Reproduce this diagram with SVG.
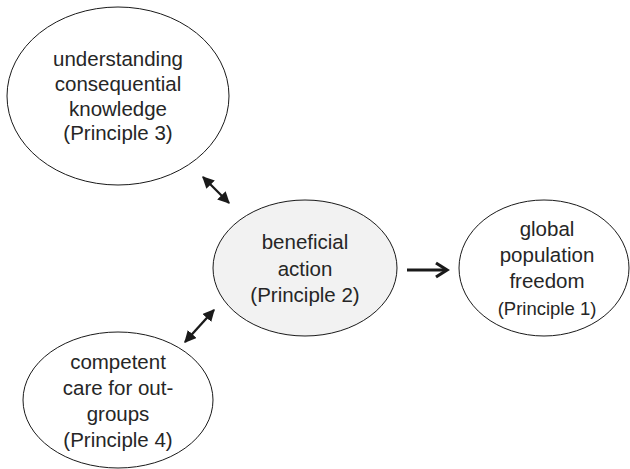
<svg xmlns="http://www.w3.org/2000/svg" width="630" height="469" viewBox="0 0 630 469">
<style>
.node ellipse{fill:#ffffff;stroke:#1a1a1a;stroke-width:1}
#n2 ellipse{fill:#f2f2f2}
text{font-family:"Liberation Sans",Arial,sans-serif;font-size:20.5px;fill:#262626;text-anchor:middle}
.small{font-size:18.5px}
.conn{stroke:#1a1a1a;fill:none}
</style>
<defs>
<marker id="tri" viewBox="0 0 10 10" refX="9" refY="5" markerWidth="5.2" markerHeight="5.2" orient="auto-start-reverse" markerUnits="strokeWidth">
<path d="M0,0 L10,5 L0,10 Z" fill="#1a1a1a"/>
</marker>
</defs>
<g id="n1" class="node">
<ellipse cx="118" cy="96" rx="111" ry="89"/>
<text x="118" y="66">understanding</text>
<text x="118" y="91">consequential</text>
<text x="118" y="116">knowledge</text>
<text x="118" y="140">(Principle 3)</text>
</g>
<g id="n2" class="node">
<ellipse cx="305" cy="268" rx="92" ry="68"/>
<text x="305" y="249">beneficial</text>
<text x="305" y="275.5">action</text>
<text x="305" y="302">(Principle 2)</text>
</g>
<g id="n3" class="node">
<ellipse cx="544" cy="268" rx="85" ry="68"/>
<text x="547" y="236">global</text>
<text x="547" y="262">population</text>
<text x="547" y="288">freedom</text>
<text class="small" x="547" y="315">(Principle 1)</text>
</g>
<g id="n4" class="node">
<ellipse cx="118" cy="400" rx="95" ry="68"/>
<text x="118" y="369">competent</text>
<text x="118" y="395">care for out-</text>
<text x="118" y="421">groups</text>
<text x="118" y="447">(Principle 4)</text>
</g>
<g id="connectors">
<line class="conn" x1="203" y1="177" x2="229" y2="203" stroke-width="2.3" marker-start="url(#tri)" marker-end="url(#tri)"/>
<line class="conn" x1="214" y1="310" x2="185" y2="342" stroke-width="2.3" marker-start="url(#tri)" marker-end="url(#tri)"/>
<line class="conn" x1="407" y1="270" x2="446" y2="270" stroke-width="3"/>
<polyline class="conn" points="436,263 447,270 436,277" stroke-width="3.2" stroke-linejoin="miter"/>
</g>
</svg>
